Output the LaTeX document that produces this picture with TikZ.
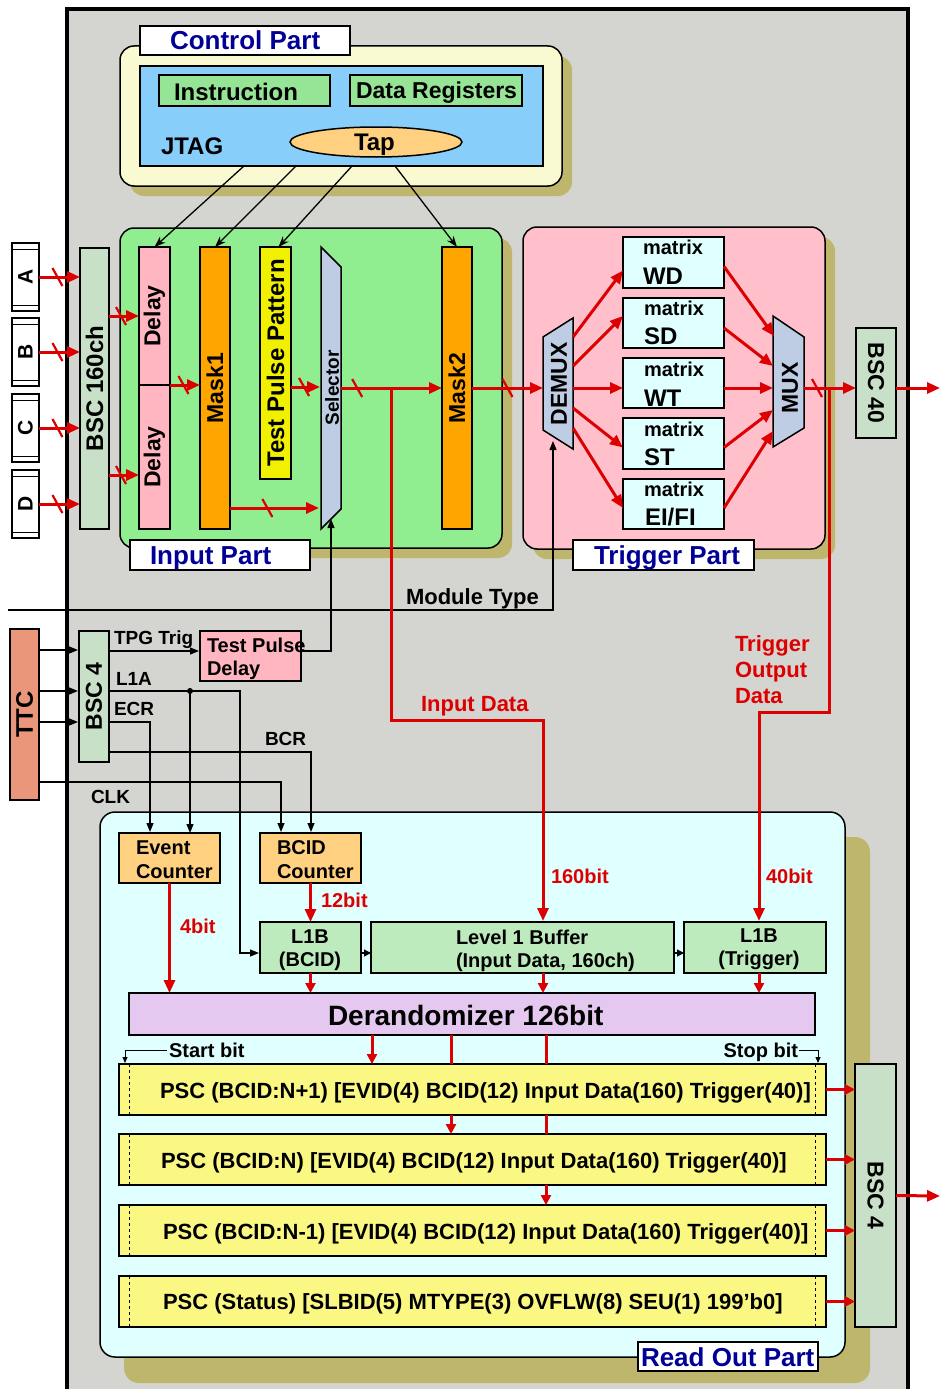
\documentclass[tikz,border=0pt]{standalone}
\usepackage{fontspec}
\setmainfont{Liberation Sans}
\usetikzlibrary{arrows.meta,decorations.markings,shapes.geometric}
\definecolor{bgray}{RGB}{212,212,208}
\definecolor{ctrlY}{RGB}{250,250,210}
\definecolor{shad}{RGB}{190,182,108}
\definecolor{jblue}{RGB}{135,206,250}
\definecolor{lgreen}{RGB}{144,238,144}
\definecolor{instrg}{RGB}{150,228,150}
\definecolor{trigpink}{RGB}{255,192,203}
\definecolor{delpink}{RGB}{255,182,193}
\definecolor{morange}{RGB}{255,165,0}
\definecolor{tyellow}{RGB}{240,240,0}
\definecolor{selblue}{RGB}{190,205,228}
\definecolor{mcyan}{RGB}{224,255,255}
\definecolor{bscg}{RGB}{200,224,200}
\definecolor{ttcc}{RGB}{233,150,122}
\definecolor{cntor}{RGB}{255,208,128}
\definecolor{l1bg}{RGB}{190,235,190}
\definecolor{derandc}{RGB}{228,200,240}
\definecolor{pscy}{RGB}{250,248,130}
\definecolor{rocyan}{RGB}{224,255,255}
\definecolor{rred}{RGB}{220,0,0}
\definecolor{navyt}{RGB}{0,0,150}
\newcommand\mybox[7][]{\node[inner sep=0pt,outer sep=0pt,anchor=north west,minimum width={(#5-#3)*1pt},minimum height={(#6-#4)*1pt},#1] (#2) at (#3,#4) {#7};}
\newcommand\rt[1]{\rotatebox{90}{#1}}
\newcommand\rtm[1]{\rotatebox{-90}{#1}}
\begin{document}
\begin{tikzpicture}[x=1pt,y=-1pt,
  blk/.style={draw=black,line width=1.5pt},
  rl/.style={draw=rred,line width=3pt},
  rarr/.style={rl,-{Triangle[length=13pt,width=11pt]}},
  rarrs/.style={rl,-{Triangle[length=10pt,width=10pt]}},
  barr/.style={draw=black,line width=1.3pt,-{Triangle[length=9pt,width=7pt]}},
  tarr/.style={draw=black,line width=1.3pt,-{Triangle[length=7pt,width=7pt]}},
  sarr/.style={draw=black,line width=0.8pt,-{Triangle[length=6pt,width=5pt]}},
  jarr/.style={draw=black,line width=1.3pt,-{Stealth[length=11pt,width=8pt]}},
  slashat/.style={postaction={decorate,decoration={markings,mark=at position #1 with {\draw[-,rred,line width=2.2pt] (-5pt,9pt)--(5pt,-9pt);}}}},
  lbl/.style={inner sep=0pt,outer sep=0pt},
  fs/.style 2 args={font=\fontsize{#1}{#2}\selectfont\bfseries},
  tx/.style={lbl,anchor=base west,fs={#1}{#1}},
  txc/.style={lbl,anchor=base,fs={#1}{#1}},
]
\useasboundingbox (0,0) rectangle (940,1389);
\fill[white] (0,0) rectangle (940,1389);
\fill[bgray] (66,9) rectangle (909,1389);
\draw[line width=4pt] (67,1392) -- (67,9) -- (908,9) -- (908,1392);

% ---------- Control part ----------
\fill[shad,rounded corners=14pt] (130,56) rectangle (572,196);
\mybox[blk,fill=ctrlY,rounded corners=14pt]{ctrl}{120}{46}{562}{186}{}
\mybox[blk,fill=white]{ctrllbl}{140}{26}{350}{55}{}
\node[tx=26,text=navyt] (ctrlt) at (170,50) {Control Part};
\mybox[blk,fill=jblue]{jtag}{140}{66}{543}{166}{}
\mybox[blk,fill=instrg]{instr}{159}{75}{330}{106}{}
\node[tx=24] (instrt) at (174,100) {Instruction};
\mybox[blk,fill=instrg]{dreg}{350}{75}{522}{106}{}
\node[tx=23] (dregt) at (356,99) {Data Registers};
\node[tx=24] (jtagt) at (161,154) {JTAG};
\node[ellipse,blk,fill=cntor,minimum width=172pt,minimum height=30pt,inner sep=0pt] (tap) at (376,142) {};
\node[tx=24] (tapt) at (354,150) {Tap};

% ---------- Input part ----------
\fill[shad,rounded corners=14pt] (130,238) rectangle (512,558);
\mybox[blk,fill=lgreen,rounded corners=14pt]{inp}{120}{228}{502}{548}{}
\mybox[blk,fill=white]{inplbl}{130}{540}{310}{570}{}
\node[tx=26,text=navyt] (inpt) at (150,564) {Input Part};
\mybox[blk,fill=bscg,fs={24}{24}]{bsc160}{80}{248}{109}{529}{\rt{BSC 160ch}}
\mybox[draw,line width=2pt,fill=white,fs={21}{21}]{conA}{12}{243}{39}{311}{\rt{A}}
\mybox[draw,line width=2pt,fill=white,fs={21}{21}]{conB}{12}{318}{39}{386}{\rt{B}}
\mybox[draw,line width=2pt,fill=white,fs={21}{21}]{conC}{12}{394}{39}{462}{\rt{C}}
\mybox[draw,line width=2pt,fill=white,fs={21}{21}]{conD}{12}{470}{39}{538}{\rt{D}}
\foreach \c in {A,B,C,D}{
  \draw[line width=0.9pt] ([yshift=-6pt]con\c.north west) -- ([yshift=-6pt]con\c.north east);
  \draw[line width=0.9pt] ([yshift=6pt]con\c.south west) -- ([yshift=6pt]con\c.south east);
}
\mybox[blk,fill=delpink,fs={23}{23}]{delay1}{139}{247}{170}{385}{\rt{Delay}}
\mybox[blk,fill=delpink,fs={23}{23}]{delay2}{139}{385}{170}{529}{\rt{Delay}}
\mybox[blk,fill=morange,fs={23}{23}]{mask1}{200}{247}{230}{529}{\rt{Mask1}}
\mybox[blk,fill=tyellow,fs={24}{24}]{tpp}{260}{247}{291}{479}{\rt{Test Pulse Pattern}}
\draw[blk,fill=selblue] (321,247) -- (341,267) -- (341,509) -- (321,529) -- cycle;
\node[lbl,fs={19}{19}] (selt) at (332,388) {\rt{Selector}};
\mybox[blk,fill=morange,fs={23}{23}]{mask2}{442}{247}{472}{529}{\rt{Mask2}}

% ---------- Trigger part ----------
\fill[shad,rounded corners=14pt] (533,237) rectangle (835,559);
\mybox[blk,fill=trigpink,rounded corners=14pt]{trg}{523}{227}{825}{549}{}
\mybox[blk,fill=white]{trglbl}{573}{540}{754}{570}{}
\node[tx=26,text=navyt] (trgt) at (594,564) {Trigger Part};
\draw[blk,fill=selblue] (543,337) -- (573,318) -- (573,449) -- (543,430) -- cycle;
\node[lbl,fs={23}{23}] (demuxt) at (559,384) {\rt{DEMUX}};
\draw[blk,fill=selblue] (773,316) -- (804,337) -- (804,428) -- (773,447) -- cycle;
\node[lbl,fs={23}{23}] (muxt) at (790,388) {\rt{MUX}};
\mybox[blk,fill=mcyan]{mWD}{623}{237}{724}{288}{}
\mybox[blk,fill=mcyan]{mSD}{623}{298}{724}{348}{}
\mybox[blk,fill=mcyan]{mWT}{623}{358}{724}{408}{}
\mybox[blk,fill=mcyan]{mST}{623}{418}{724}{469}{}
\mybox[blk,fill=mcyan]{mEI}{623}{479}{724}{529}{}
\node[tx=20] (mWDa) at (643,254) {matrix};
\node[tx=24] (mWDb) at (643,284) {WD};
\node[tx=20] (mSDa) at (644,315) {matrix};
\node[tx=24] (mSDb) at (644,344) {SD};
\node[tx=20] (mWTa) at (644,376) {matrix};
\node[tx=24] (mWTb) at (644,406) {WT};
\node[tx=20] (mSTa) at (644,436) {matrix};
\node[tx=24] (mSTb) at (644,465) {ST};
\node[tx=20] (mEIa) at (644,496) {matrix};
\node[tx=24] (mEIb) at (645,525) {EI/FI};
\mybox[blk,fill=bscg,fs={23}{23}]{bsc40}{856}{328}{896}{438}{\rtm{BSC 40}}

% ---------- TTC area ----------
\mybox[draw,line width=2.5pt,fill=ttcc,fs={24}{24}]{ttc}{10}{629}{39}{800}{\rt{TTC}}
\mybox[blk,fill=bscg,fs={23}{23}]{bsc4}{79}{631}{109}{762}{\rt{BSC 4}}
\mybox[blk,fill=delpink]{tpd}{200}{631}{301}{681}{}
\node[tx=20] (tpdt1) at (207,652) {Test Pulse};
\node[tx=20] (tpdt2) at (207,675) {Delay};

% ---------- Read out part ----------
\fill[shad,rounded corners=15pt] (124,837) rectangle (870,1383);
\mybox[blk,fill=rocyan,rounded corners=15pt]{ro}{100}{812}{845}{1357}{}
\mybox[blk,fill=white]{rolbl}{638}{1342}{818}{1371}{}
\node[tx=26,text=navyt] (rot) at (641,1366) {Read Out Part};
\mybox[blk,fill=cntor]{evc}{119}{833}{220}{883}{}
\node[tx=20] (evct1) at (136,854) {Event};
\node[tx=20] (evct2) at (136,878) {Counter};
\mybox[blk,fill=cntor]{bcidc}{260}{833}{361}{883}{}
\node[tx=20] (bcidt1) at (277,854) {BCID};
\node[tx=20] (bcidt2) at (277,878) {Counter};
\mybox[blk,fill=l1bg]{l1bb}{260}{922}{361}{973}{}
\node[txc=20] (l1bbt1) at (310,943) {L1B};
\node[txc=20] (l1bbt2) at (310,966) {(BCID)};
\mybox[blk,fill=l1bg]{l1buf}{371}{922}{674}{973}{}
\node[tx=20] (l1buft1) at (456,944) {Level 1 Buffer};
\node[tx=20] (l1buft2) at (456,967) {(Input Data, 160ch)};
\mybox[blk,fill=l1bg]{l1bt}{684}{922}{826}{973}{}
\node[txc=20] (l1btt1) at (759,942) {L1B};
\node[txc=20] (l1btt2) at (759,965) {(Trigger)};
\mybox[blk,fill=derandc]{derand}{129}{993}{815}{1035}{}
\node[tx=28] (derandt) at (328,1025) {Derandomizer 126bit};
\mybox[blk,fill=pscy]{psc1}{119}{1064}{826}{1115}{}
\mybox[blk,fill=pscy]{psc2}{119}{1134}{826}{1185}{}
\mybox[blk,fill=pscy]{psc3}{119}{1205}{826}{1256}{}
\mybox[blk,fill=pscy]{psc4}{119}{1276}{826}{1327}{}
\foreach \r in {1,2,3,4}{
  \draw[dashed,line width=1pt] ([xshift=10pt]psc\r.north west) -- ([xshift=10pt]psc\r.south west);
  \draw[dashed,line width=1pt] ([xshift=-11pt]psc\r.north east) -- ([xshift=-11pt]psc\r.south east);
}
\node[tx=22] (psct1) at (160,1098) {PSC (BCID:N+1) [EVID(4) BCID(12) Input Data(160) Trigger(40)]};
\node[tx=22] (psct2) at (161,1168) {PSC (BCID:N) [EVID(4) BCID(12) Input Data(160) Trigger(40)]};
\node[tx=22] (psct3) at (163,1239) {PSC (BCID:N-1) [EVID(4) BCID(12) Input Data(160) Trigger(40)]};
\node[tx=22] (psct4) at (163,1309) {PSC (Status) [SLBID(5) MTYPE(3) OVFLW(8) SEU(1) 199’b0]};
\mybox[blk,fill=bscg,fs={23}{23}]{bsc4r}{855}{1064}{896}{1327}{\rtm{BSC 4}}

% ---------- coordinates ----------
\coordinate (d2in) at (139,475);
\coordinate (selin1) at (320,387);
\coordinate (selin2) at (319,508);
\coordinate (selout) at (341,388);
\coordinate (dmxin) at (543,388);
\coordinate (br1) at (391,388);
\coordinate (dm1) at (573,337);
\coordinate (dm2) at (573,366);
\coordinate (dm3) at (573,388);
\coordinate (dm4) at (573,408);
\coordinate (dm5) at (573,428);
\coordinate (mx1) at (774,336);
\coordinate (mx2) at (773,366);
\coordinate (mx3) at (773,388);
\coordinate (mx4) at (773,410);
\coordinate (mx5) at (773,431);
\coordinate (muxout) at (804,388);
\coordinate (br2) at (829,388);
\coordinate (out1) at (940,388);
\coordinate (selbot) at (331,519);
\coordinate (dmxbot) at (553,441);
\coordinate (mtl) at (8,610);
\coordinate (tpdin) at (199,651);
\coordinate (t1) at (78,650);
\coordinate (t2) at (78,691);
\coordinate (t3) at (78,722);
\coordinate (l1aout) at (109,691);
\coordinate (l1dot) at (190,691);
\coordinate (ecrout) at (109,722);
\coordinate (bcrout) at (109,752);
\coordinate (clkout) at (39,782);
\coordinate (ecrin) at (150,832);
\coordinate (bcrin) at (311,832);
\coordinate (clkin) at (281,832);
\coordinate (l1bbin) at (259,953);
\coordinate (l1bufin) at (543,921);
\coordinate (l1btin) at (759,921);
\coordinate (cA) at (372,0);
\coordinate (cB) at (451,0);
\coordinate (cC) at (546,0);
\coordinate (out2) at (940,1196);
\coordinate (sb1) at (167,1050);
\coordinate (sb2) at (125,1063);
\coordinate (stb1) at (799,1050);
\coordinate (stb2) at (818,1063);

% ---------- black connectors ----------
\draw[jarr] ([xshift=104pt]jtag.south west) -- (delay1.north);
\draw[jarr] ([xshift=156pt]jtag.south west) -- (mask1.north);
\draw[jarr] ([xshift=212pt]jtag.south west) -- ([xshift=3pt]tpp.north);
\draw[jarr] ([xshift=255pt]jtag.south west) -- (mask2.north);
\foreach \t in {t1,t2,t3} \draw[barr] (ttc.east |- \t) -- (\t);
\draw[barr] (bsc4.east |- tpdin) -- (tpdin);
\draw[barr] (tpd.east |- tpdin) -| (selbot);
\draw[barr] (mtl) -| (dmxbot);
\draw[barr] (l1aout) -- ++(131,0) |- (l1bbin);
\fill (l1dot) circle (3pt);
\draw[barr] (l1dot) -- (l1dot |- evc.north);
\draw[barr] (ecrout) -| (ecrin);
\draw[barr] (bcrout) -| (bcrin);
\draw[barr] (clkout) -| (clkin);
\draw[tarr] (l1bb.east |- l1bbin) -- (l1buf.west |- l1bbin);
\draw[tarr] (l1buf.east |- l1bbin) -- (l1bt.west |- l1bbin);
\draw[sarr] (sb1) -| (sb2);
\draw[sarr] (stb1) -| (stb2);

% ---------- red connectors ----------
\foreach \c in {A,B,C,D} \draw[rarr,slashat=0.45] (con\c.east) -- (con\c.east -| bsc160.west);
\draw[rarr,slashat=0.4] (bsc160.east |- delay1.west) -- (delay1.west);
\draw[rarr,slashat=0.4] (bsc160.east |- d2in) -- (d2in);
\draw[rarr,slashat=0.45] (delay1.south east) -- (delay1.south east -| mask1.west);
\draw[rarr,slashat=0.45] (tpp.east |- selin1) -- (selin1);
\draw[rarr,slashat=0.42] (mask1.east |- selin2) -- (selin2);
\draw[rarr,slashat=0.16] (selout) -- (selout -| mask2.west);
\draw[rarr,slashat=0.5] (mask2.east |- dmxin) -- (dmxin);
\draw[rarr] (dm1) -- ([yshift=-8pt]mWD.west);
\draw[rarr] (dm2) -- ([yshift=7pt]mSD.west);
\draw[rarr] (dm3) -- (dm3 -| mWT.west);
\draw[rarr] (dm4) -- ([yshift=-4pt]mST.west);
\draw[rarr] (dm5) -- ([yshift=-4pt]mEI.west);
\draw[rarr] ([yshift=-4pt]mWD.east) -- (mx1);
\draw[rarr] ([yshift=-5pt]mSD.east) -- (mx2);
\draw[rarr] (mWT.east |- mx3) -- (mx3);
\draw[rarr] ([yshift=-4pt]mST.east) -- (mx4);
\draw[rarr] ([yshift=-4pt]mEI.east) -- (mx5);
\draw[rarr,slashat=0.25] (muxout) -- (muxout -| bsc40.west);
\draw[rarr] (bsc40.east |- out1) -- (out1);
\draw[rarr] (br1) -- ++(0,332) -| (l1bufin);
\draw[rarr] (br2) -- ++(0,324) -| (l1btin);
\draw[rarr] (evc.south) -- (evc.south |- derand.north);
\draw[rarr] (bcidc.south) -- (l1bb.north);
\draw[rarrs] (l1bb.south) -- (l1bb.south |- derand.north);
\draw[rarrs] (l1bufin |- l1buf.south) -- (l1bufin |- derand.north);
\draw[rarrs] (l1btin |- l1bt.south) -- (l1btin |- derand.north);
\draw[rarrs] (cA |- derand.south) -- (cA |- psc1.north);
\draw[rl] (cB |- derand.south) -- (cB |- psc1.north);
\draw[rl] (cC |- derand.south) -- (cC |- psc1.north);
\draw[rarrs] (cB |- psc1.south) -- (cB |- psc2.north);
\draw[rl] (cC |- psc1.south) -- (cC |- psc2.north);
\draw[rarrs] (cC |- psc2.south) -- (cC |- psc3.north);
\foreach \r in {1,2,3,4} \draw[rarrs] (psc\r.east) -- (psc\r.east -| bsc4r.west);
\draw[rarr] (bsc4r.east) -- (out2);

% ---------- labels ----------
\node[tx=22] (mtt) at (406,604) {Module Type};
\node[tx=19] (tpgt) at (114,644) {TPG Trig};
\node[tx=19] (l1at) at (116,685) {L1A};
\node[tx=19] (ecrt) at (114,715) {ECR};
\node[tx=19] (bcrt) at (265,745) {BCR};
\node[tx=19] (clkt) at (91,803) {CLK};
\node[tx=22,text=rred] (indt) at (421,711) {Input Data};
\node[tx=22,text=rred] (tod1) at (735,651) {Trigger};
\node[tx=22,text=rred] (tod2) at (735,677) {Output};
\node[tx=22,text=rred] (tod3) at (735,703) {Data};
\node[tx=20,text=rred] (b160) at (551,883) {160bit};
\node[tx=20,text=rred] (b40) at (766,883) {40bit};
\node[tx=20,text=rred] (b4) at (180,933) {4bit};
\node[tx=20,text=rred] (b12) at (321,907) {12bit};
\node[tx=20] (startt) at (169,1057) {Start bit};
\node[lbl,anchor=base east,fs={20}{20}] (stopt) at (798,1057) {Stop bit};
\end{tikzpicture}
\end{document}
